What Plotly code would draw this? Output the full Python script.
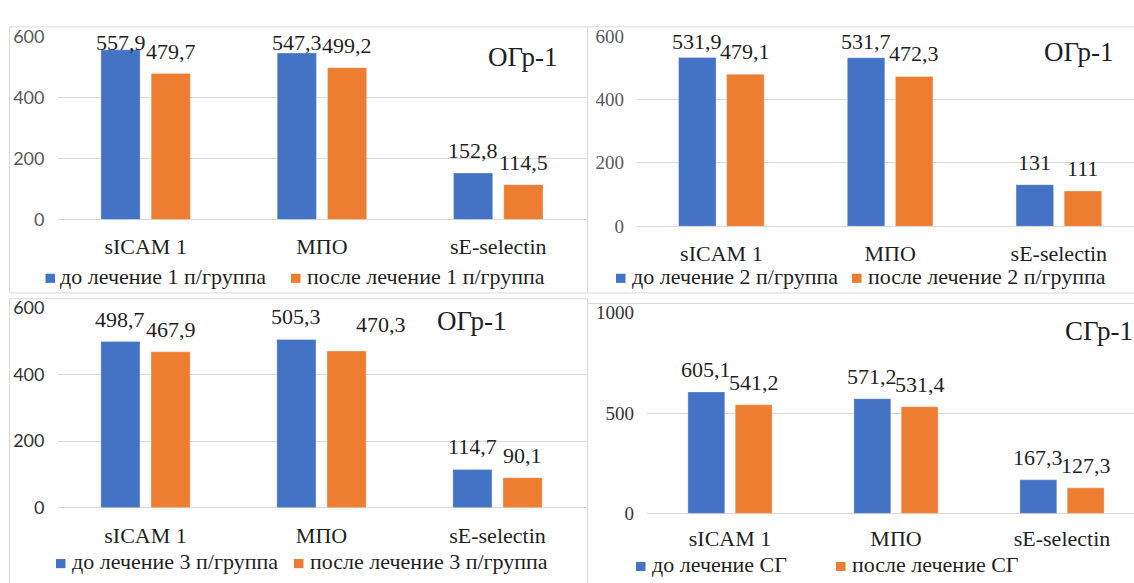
import plotly.graph_objects as go

# ---- data -------------------------------------------------------------
categories = ["sICAM 1", "МПО", "sE-selectin"]

g1_before = [557.9, 547.3, 152.8]
g1_after = [479.7, 499.2, 114.5]
g2_before = [531.9, 531.7, 131]
g2_after = [479.1, 472.3, 111]
g3_before = [498.7, 505.3, 114.7]
g3_after = [467.9, 470.3, 90.1]
cg_before = [605.1, 571.2, 167.3]
cg_after = [541.2, 531.4, 127.3]

g1_names = ["до лечение 1 п/группа", "после лечение 1 п/группа"]
g2_names = ["до лечение 2 п/группа", "после лечение 2 п/группа"]
g3_names = ["до лечение 3 п/группа", "после лечение 3 п/группа"]
cg_names = ["до лечение СГ", "после лечение СГ"]

titles = ["ОГр-1", "ОГр-1", "ОГр-1", "СГр-1"]

# ---- styling ----------------------------------------------------------
W, H = 1134, 583
BLUE = "#4472C4"
ORANGE = "#ED7D31"
GRID = "#d9d9d9"
TEXT = "#1f1f1f"
SERIF = "Liberation Serif, serif"
SANS = "Lato, sans-serif"
FS = 22          # serif text size (values, categories, legend)
BARGAP = 0.43
GROUPGAP = 0.22


def fx(px):
    return px / W


def fy(py):
    return 1 - py / H


panels = [
    dict(before=g1_before, after=g1_after, names=g1_names, title=titles[0],
         x0=57.5, step=176.3, ytop=26, ybot=216, ymax=600, dtick=200,
         tickfont=dict(family=SANS, size=18, color="#595959"), standoff=12,
         legend_y=277, legend_x=[(45.5, 58), (291, 305)],
         title_xy=(486, 47), box=(9.5, 15.5, 587.5, 292.5)),
    dict(before=g2_before, after=g2_after, names=g2_names, title=titles[1],
         x0=637, step=168.75, ytop=25, ybot=223, ymax=600, dtick=200,
         tickfont=dict(family=SERIF, size=19, color="#595959"), standoff=12,
         legend_y=277, legend_x=[(616, 630), (852, 866)],
         title_xy=(1042, 42), box=(587.5, 15.5, 1140, 292.5)),
    dict(before=g3_before, after=g3_after, names=g3_names, title=titles[2],
         x0=57.5, step=176, ytop=308, ybot=516, ymax=600, dtick=200,
         tickfont=dict(family=SANS, size=18, color="#333333"), standoff=12,
         legend_y=574, legend_x=[(56, 70), (294, 308)],
         title_xy=(435, 322), box=(9.5, 298.5, 587.5, 600)),
    dict(before=cg_before, after=cg_after, names=cg_names, title=titles[3],
         x0=647, step=166, ytop=313, ybot=522, ymax=1000, dtick=500,
         tickfont=dict(family=SERIF, size=19, color="#333333"), standoff=10,
         legend_y=577, legend_x=[(636, 650), (836, 850)],
         title_xy=(1063, 332), box=(587.5, 303.5, 1140, 600)),
]

# hand-placed label nudges (panel, category, series) -> (dx px, extra dy px)
label_nudge = {(2, 1, 1): (34, 4)}

fig = go.Figure()
shapes = []
annotations = []

slot = (1 - BARGAP) / 2
for k, p in enumerate(panels):
    sfx = "" if k == 0 else str(k + 1)
    xa, ya = "x" + sfx, "y" + sfx

    for s, (vals, color) in enumerate([(p["before"], BLUE), (p["after"], ORANGE)]):
        fig.add_trace(go.Bar(x=categories, y=vals, name=p["names"][s],
                             marker=dict(color=color,
                                         line=dict(width=1, color="rgba(255,255,255,0.3)")),
                             xaxis=xa, yaxis=ya, hoverinfo="skip"))

    x_end = min(p["x0"] + 3 * p["step"], W)
    fig.layout["xaxis" + sfx] = dict(
        domain=[fx(p["x0"]), fx(x_end)],
        range=[-0.5, -0.5 + (x_end - p["x0"]) / p["step"]],
        anchor=ya, type="category", showgrid=False, zeroline=False,
        showline=False, ticks="", ticklabelstandoff=p["standoff"],
        tickfont=dict(family=SERIF, size=FS, color=TEXT), fixedrange=True)
    fig.layout["yaxis" + sfx] = dict(
        domain=[fy(p["ybot"]), fy(p["ytop"])],
        range=[0, p["ymax"]], dtick=p["dtick"], anchor=xa,
        showgrid=True, gridcolor=GRID, gridwidth=1,
        zeroline=True, zerolinecolor=GRID, zerolinewidth=1,
        showline=False, ticks="", ticklabelstandoff=12,
        tickfont=p["tickfont"], fixedrange=True)

    # value labels above the bars (kept inside the plot top, as in the sheet)
    scale = (p["ybot"] - p["ytop"]) / p["ymax"]
    for s, vals in enumerate([p["before"], p["after"]]):
        for i, v in enumerate(vals):
            dx, dy = label_nudge.get((k, i, s), (0, 0))
            bar_top = p["ybot"] - v * scale
            baseline = max(p["ytop"] + 14, bar_top - 15 - dy)
            center = baseline - 7.5
            annotations.append(dict(
                x=i + (s - 0.5) * slot, y=v, xref=xa, yref=ya,
                text=f"{v:g}".replace(".", ","), showarrow=False,
                xanchor="center", yanchor="middle",
                xshift=dx, yshift=bar_top - center,
                font=dict(family=SERIF, size=FS, color=TEXT)))

    # panel title
    tx, ty = p["title_xy"]
    annotations.append(dict(x=fx(tx), y=fy(ty), xref="paper", yref="paper",
                            text=p["title"], showarrow=False,
                            xanchor="left", yanchor="middle",
                            font=dict(family=SERIF, size=27, color=TEXT)))

    # legend keys and names
    for s, color in enumerate([BLUE, ORANGE]):
        sq, txt = p["legend_x"][s]
        ly = p["legend_y"]
        shapes.append(dict(type="rect", xref="paper", yref="paper",
                           x0=fx(sq), x1=fx(sq + 9.5), y0=fy(ly + 5), y1=fy(ly - 4.5),
                           fillcolor=color, line=dict(width=0)))
        annotations.append(dict(x=fx(txt), y=fy(ly - 2), xref="paper", yref="paper",
                                text=p["names"][s], showarrow=False,
                                xanchor="left", yanchor="middle",
                                font=dict(family=SERIF, size=FS, color=TEXT)))

    # chart frame
    bx0, by0, bx1, by1 = p["box"]
    shapes.append(dict(type="rect", xref="paper", yref="paper",
                       x0=fx(bx0), x1=fx(bx1), y0=fy(by1), y1=fy(by0),
                       line=dict(color=GRID, width=1), fillcolor="rgba(0,0,0,0)",
                       layer="below"))

fig.update_layout(
    width=W, height=H, autosize=False,
    margin=dict(l=0, r=0, t=0, b=0, pad=0),
    paper_bgcolor="white", plot_bgcolor="rgba(0,0,0,0)",
    barmode="group", bargap=BARGAP, bargroupgap=GROUPGAP,
    showlegend=False, shapes=shapes, annotations=annotations,
)

fig.write_html("out.html", config={"displayModeBar": False})
